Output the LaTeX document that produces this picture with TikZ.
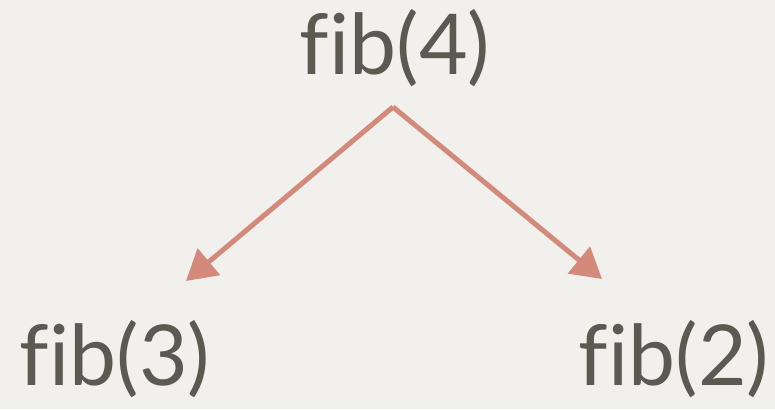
\documentclass[tikz,border=0pt]{standalone}
\usepackage{fontspec}
\setmainfont[Ligatures=NoCommon]{Lato}
\usetikzlibrary{arrows.meta}
\definecolor{bg}{HTML}{F1F0EC}
\definecolor{txt}{HTML}{5A5952}
\definecolor{arr}{HTML}{D38A7B}
\begin{document}
\begin{tikzpicture}[x=1pt,y=-1pt,
  lbl/.style={text=txt,font=\fontsize{84}{90}\selectfont,inner sep=0pt,anchor=base},
  edge/.style={draw=arr,line width=5pt,-{Triangle[length=30pt,width=34pt]}}]
\fill[bg] (0,0) rectangle (775,409);
\useasboundingbox (0,0) rectangle (775,409);
\node[lbl] (f4) at (395,75) {fib(4)};
\node[lbl] (f3) at (115,385) {fib(3)};
\node[lbl] (f2) at (674,385) {fib(2)};
\coordinate (apex) at (393,107);
\coordinate (t3) at (186,281);
\coordinate (t2) at (602,279);
\draw[edge] (apex) -- (t3);
\draw[edge] (apex) -- (t2);
\end{tikzpicture}
\end{document}
